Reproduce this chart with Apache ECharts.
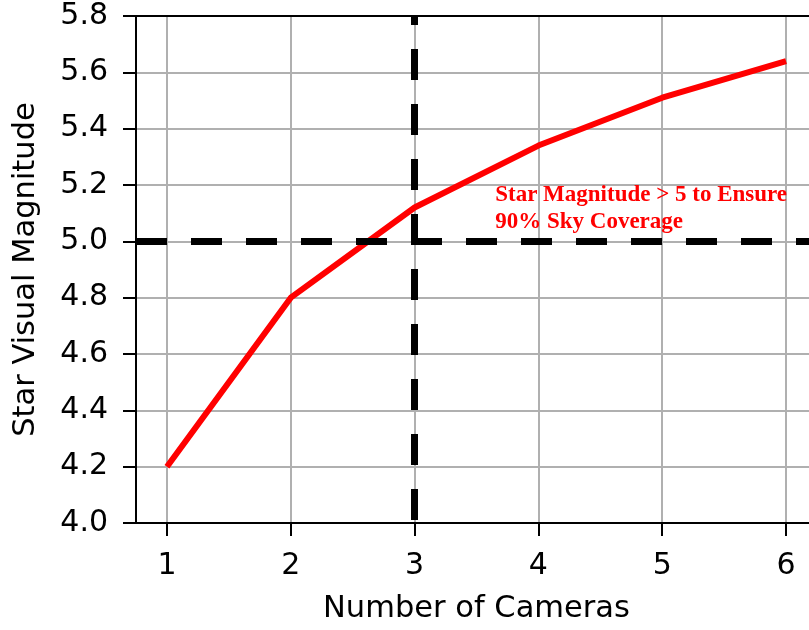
<!DOCTYPE html>
<html>
<head>
<meta charset="utf-8">
<script src="https://cdn.jsdelivr.net/npm/echarts@6/dist/echarts.min.js"></script>
<style>
html,body{margin:0;padding:0;background:#fff;}
#chart{width:809px;height:630px;}
</style>
</head>
<body>
<div id="chart"></div>
<script>
const cameras = [1, 2, 3, 4, 5, 6];
const magnitude = [4.20, 4.80, 5.12, 5.34, 5.51, 5.64];
const xTicks = [1, 2, 3, 4, 5, 6];
const xRange = [0.75, 6.25];
const yRange = [4.0, 5.8];
const yStep = 0.2;
const thresholdMag = 5.0;
const chosenCameras = 3;
const noteLines = ['Star Magnitude > 5 to Ensure', '90% Sky Coverage'];
const notePos = [3.655, 5.21];

const font = 'DejaVu Sans';
const chart = echarts.init(document.getElementById('chart'), null, {renderer: 'canvas'});

chart.setOption({
  animation: false,
  backgroundColor: '#ffffff',
  grid: {left: 136, top: 16, width: 681, bottom: 107, containLabel: false, outerBoundsMode: 'none'},
  xAxis: [{
    type: 'value',
    min: xRange[0], max: xRange[1],
    name: 'Number of Cameras',
    nameLocation: 'middle',
    nameGap: 71,
    nameTextStyle: {fontFamily: font, fontSize: 30.5, color: '#000'},
    axisLine: {show: true, onZero: false, lineStyle: {color: '#000', width: 2}},
    axisTick: {show: true, length: 13, customValues: xTicks, lineStyle: {color: '#000', width: 2}},
    axisLabel: {customValues: xTicks, margin: 28, fontFamily: font, fontSize: 30, color: '#000',
      formatter: v => String(v)},
    splitLine: {show: true, lineStyle: {color: '#b0b0b0', width: 2}},
    z: 3
  }, {
    type: 'value',
    position: 'top',
    min: xRange[0], max: xRange[1],
    axisLine: {show: true, onZero: false, lineStyle: {color: '#000', width: 2}},
    axisTick: {show: false},
    axisLabel: {show: false},
    splitLine: {show: false},
    z: 3
  }],
  yAxis: {
    type: 'value',
    min: yRange[0], max: yRange[1], interval: yStep,
    name: 'Star Visual Magnitude',
    nameLocation: 'middle',
    nameGap: 94,
    nameRotate: 90,
    nameTextStyle: {fontFamily: font, fontSize: 30.5, color: '#000'},
    axisLine: {show: true, onZero: false, lineStyle: {color: '#000', width: 2}},
    axisTick: {show: true, length: 13, lineStyle: {color: '#000', width: 2}},
    axisLabel: {margin: 28, fontFamily: font, fontSize: 30, color: '#000',
      formatter: v => v.toFixed(1)},
    splitLine: {show: true, lineStyle: {color: '#b0b0b0', width: 2}},
    z: 3
  },
  series: [{
    type: 'line',
    data: cameras.map((c, i) => [c, magnitude[i]]),
    showSymbol: false,
    symbol: 'none',
    lineStyle: {color: '#ff0000', width: 6},
    z: 4
  }, {
    type: 'line',
    data: [],
    z: 5,
    markLine: {
      silent: true,
      symbol: ['none', 'none'],
      label: {show: false},
      animation: false,
      data: [
        [{coord: [xRange[0], thresholdMag], lineStyle: {color: '#000', width: 7, type: [31, 24], dashOffset: 0}},
         {coord: [xRange[1], thresholdMag]}],
        [{coord: [chosenCameras, yRange[0]], lineStyle: {color: '#000', width: 7, type: [31, 24], dashOffset: 52}},
         {coord: [chosenCameras, yRange[1]]}]
      ]
    },
    markPoint: {
      silent: true,
      symbol: 'circle',
      symbolSize: 1,
      itemStyle: {color: 'rgba(0,0,0,0)'},
      data: [{
        coord: notePos,
        label: {
          show: true,
          position: [0, 0],
          align: 'left',
          verticalAlign: 'top',
          formatter: noteLines.join('\n'),
          fontFamily: 'Liberation Serif',
          fontWeight: 'bold',
          fontSize: 23,
          lineHeight: 27,
          color: '#ff0000'
        }
      }]
    }
  }]
});
</script>
</body>
</html>
